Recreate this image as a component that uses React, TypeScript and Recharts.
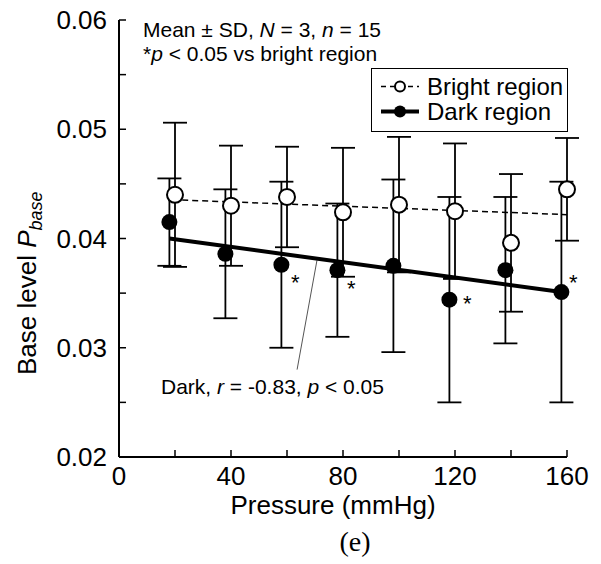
import React from 'react';
import {
  ComposedChart,
  Scatter,
  XAxis,
  YAxis,
  ErrorBar,
  Legend,
  ReferenceLine,
  Customized
} from 'recharts';

// values
const brightPressure = [20, 40, 60, 80, 100, 120, 140, 160];
const brightMean = [0.0440, 0.0430, 0.0438, 0.0424, 0.0431, 0.0425, 0.0396, 0.0445];
const brightSd = [0.0066, 0.0055, 0.0046, 0.0059, 0.0062, 0.0062, 0.0063, 0.0047];

// dark region points are drawn slightly left of the nominal pressure
const darkPressure = [18, 38, 58, 78, 98, 118, 138, 158];
const darkMean = [0.0415, 0.0386, 0.0376, 0.0371, 0.0375, 0.0344, 0.0371, 0.0351];
const darkSd = [0.0040, 0.0059, 0.0076, 0.0061, 0.0079, 0.0094, 0.0067, 0.0101];
const darkStar = ['', '', 'below', 'below', '', 'right', '', 'above'];

const brightFitX = [19, 160];
const brightFitY = [0.04355, 0.04218];
const darkFitX = [18, 158];
const darkFitY = [0.0400, 0.0351];

const pointerX = [63.6, 70.7];
const pointerY = [0.0280, 0.0380];

const xTicks = [0, 20, 40, 60, 80, 100, 120, 140, 160];
const yTicks = [0.02, 0.025, 0.03, 0.035, 0.04, 0.045, 0.05, 0.055, 0.06];

const font = '"Liberation Sans", Arial, sans-serif';

const brightData = brightPressure.map((x, i) => ({ x, y: brightMean[i], sd: brightSd[i] }));
const darkData = darkPressure.map((x, i) => ({ x, y: darkMean[i], sd: darkSd[i], star: darkStar[i] }));
const brightFit = brightFitX.map((x, i) => ({ x, y: brightFitY[i] }));
const darkFit = darkFitX.map((x, i) => ({ x, y: darkFitY[i] }));

const starOffset: Record<string, [number, number]> = {
  below: [14, 13],
  right: [18, -1],
  above: [12, -15]
};

const NoMark = () => <g />;

const OpenDot = (p: any) => (
  <circle cx={p.cx} cy={p.cy} r={8} fill="#fff" stroke="#000" strokeWidth={2} />
);

const FilledDot = (p: any) => {
  const s = p.payload && p.payload.star;
  const off = s ? starOffset[s] : null;
  return (
    <g>
      <circle cx={p.cx} cy={p.cy} r={8} fill="#000" />
      {off && (
        <text
          x={p.cx + off[0]}
          y={p.cy + off[1] + 12.5}
          textAnchor="middle"
          fontSize={22}
          fontFamily={font}
          fill="#000"
        >
          *
        </text>
      )}
    </g>
  );
};

const LegendBox = () => (
  <div
    style={{
      width: 197,
      height: 64,
      border: '1.5px solid #000',
      boxSizing: 'border-box',
      background: '#fff',
      fontFamily: font,
      fontSize: 24,
      color: '#000',
      paddingTop: 5
    }}
  >
    <div style={{ display: 'flex', alignItems: 'center', height: 25 }}>
      <svg width={48} height={25} style={{ marginLeft: 7 }}>
        <line x1={2} y1={12.5} x2={40} y2={12.5} stroke="#000" strokeWidth={1.5} strokeDasharray="5 4" />
        <circle cx={21} cy={12.5} r={5} fill="#fff" stroke="#000" strokeWidth={2} />
      </svg>
      <span>Bright region</span>
    </div>
    <div style={{ display: 'flex', alignItems: 'center', height: 25 }}>
      <svg width={48} height={25} style={{ marginLeft: 7 }}>
        <line x1={2} y1={12.5} x2={40} y2={12.5} stroke="#000" strokeWidth={4} />
        <circle cx={21} cy={12.5} r={6} fill="#000" />
      </svg>
      <span>Dark region</span>
    </div>
  </div>
);

const Annotations = () => (
  <g fontFamily={font} fill="#000">
    <text x={143} y={37} fontSize={21}>
      Mean ± SD, <tspan fontStyle="italic">N</tspan> = 3, <tspan fontStyle="italic">n</tspan> = 15
    </text>
    <text x={143} y={61} fontSize={21}>
      *<tspan fontStyle="italic">p</tspan> &lt; 0.05 vs bright region
    </text>
    <text x={161} y={394} fontSize={21}>
      Dark, <tspan fontStyle="italic">r</tspan> = -0.83, <tspan fontStyle="italic">p</tspan> &lt; 0.05
    </text>
    <text x={333} y={514} fontSize={26} textAnchor="middle">
      Pressure (mmHg)
    </text>
    <text transform="translate(36,375) rotate(-90)" fontSize={26}>
      Base level <tspan fontStyle="italic">P</tspan>
      <tspan fontSize={18} dy={6} fontStyle="italic">base</tspan>
    </text>
    <text
      x={355}
      y={551}
      fontSize={28}
      textAnchor="middle"
      fontFamily='"Liberation Serif", "Times New Roman", serif'
    >
      (e)
    </text>
  </g>
);

export default function App() {
  return (
    <div style={{ position: 'absolute', left: 0, top: 0, background: '#fff' }}>
      <ComposedChart width={601} height={564} margin={{ top: 20, right: 34, bottom: 47, left: 49 }}>
        <XAxis
          type="number"
          dataKey="x"
          domain={[0, 160]}
          ticks={xTicks}
          interval={0}
          height={60}
          tickSize={-7}
          tickMargin={17}
          tickFormatter={(v: number) => (v % 40 === 0 ? String(v) : '')}
          tick={{ fontSize: 26, fill: '#000', fontFamily: font }}
          axisLine={{ stroke: '#000', strokeWidth: 2 }}
          tickLine={{ stroke: '#000', strokeWidth: 1.5 }}
        />
        <YAxis
          type="number"
          dataKey="y"
          domain={[0.02, 0.06]}
          ticks={yTicks}
          interval={0}
          width={70}
          tickSize={-7}
          tickMargin={19}
          tickFormatter={(v: number) => (Math.round(v * 1000) % 10 === 0 ? v.toFixed(2) : '')}
          tick={{ fontSize: 26, fill: '#000', fontFamily: font }}
          axisLine={{ stroke: '#000', strokeWidth: 2 }}
          tickLine={{ stroke: '#000', strokeWidth: 1.5 }}
        />
        <Legend
          content={<LegendBox />}
          layout="horizontal"
          verticalAlign="middle"
          align="center"
          wrapperStyle={{ left: 371, top: 68, width: 197, height: 64 }}
        />

        {/* error bars first, markers drawn later on top */}
        <Scatter data={brightData} shape={NoMark} isAnimationActive={false}>
          <ErrorBar dataKey="sd" direction="y" width={12} stroke="#000" strokeWidth={1.8} />
        </Scatter>
        <Scatter data={darkData} shape={NoMark} isAnimationActive={false}>
          <ErrorBar dataKey="sd" direction="y" width={12} stroke="#000" strokeWidth={1.8} />
        </Scatter>

        <Scatter
          data={brightFit}
          shape={NoMark}
          line={{ stroke: '#000', strokeWidth: 1.5, strokeDasharray: '6 4' }}
          isAnimationActive={false}
        />
        <Scatter
          data={darkFit}
          shape={NoMark}
          line={{ stroke: '#000', strokeWidth: 4 }}
          isAnimationActive={false}
        />

        <ReferenceLine
          segment={[
            { x: pointerX[0], y: pointerY[0] },
            { x: pointerX[1], y: pointerY[1] }
          ]}
          stroke="#555"
          strokeWidth={1}
        />

        <Scatter data={brightData} shape={OpenDot} isAnimationActive={false} />
        <Scatter data={darkData} shape={FilledDot} isAnimationActive={false} />

        <Customized component={Annotations} />
      </ComposedChart>
    </div>
  );
}
